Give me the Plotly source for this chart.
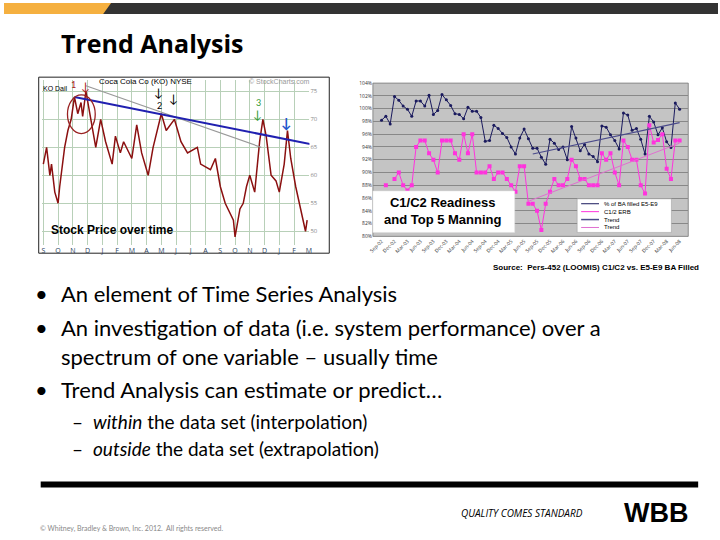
import plotly.graph_objects as go

# stock chart (KO)
stock_day = [20, 30, 40, 45, 55, 65, 70, 85, 95, 105, 115, 125, 135, 140, 150, 165, 170, 180, 195,
             210, 230, 240, 255, 265, 290, 305, 320, 340, 355, 380, 395, 420, 440, 460, 490, 500,
             530, 545, 560, 575, 600, 605, 620, 630, 640, 650, 665, 680, 690, 700, 715, 730, 740,
             755, 765, 775, 790, 805, 820, 825]
stock_price = [62, 65, 60, 62, 57, 55, 58, 65, 68, 70, 74, 71, 73, 70.5, 75, 70, 68, 65, 70,
               66, 62, 67, 64, 66, 63, 69, 64, 60, 65, 71, 68, 70, 66, 64, 65, 62,
               61, 63, 58, 55, 52, 49, 54, 55, 58, 60, 57, 66, 70, 67, 60, 59, 57,
               62, 68, 63, 58, 54, 50, 52]
stock_trend_day = [115, 840]
stock_trend_val = [74, 65.5]
stock_trend2_day = [150, 685]
stock_trend2_val = [76, 65]
stock_month_ticks = ["S", "O", "N", "D", "J", "F", "M", "A", "M", "J", "J", "A", "S", "O", "N", "D", "J", "F", "M"]

# readiness chart
months = ["Jan", "Feb", "Mar", "Apr", "May", "Jun", "Jul", "Aug", "Sep", "Oct", "Nov", "Dec"]
dates = []
for k in range(70):
    m = (8 + k) % 12
    y = 2 + (8 + k) // 12
    dates.append(f"{months[m]}-{y:02d}")
ba_filled = [98.2, 98.8, 97.6, 101.9, 101.3, 100.4, 99.9, 98.8, 101.2, 101.2, 100.4, 102.1, 99.1, 99.7,
             102.2, 101.4, 100.5, 99.2, 99.1, 98.4, 100.2, 99.6, 99.6, 98.6, 94.9, 95.0, 97.4, 96.9,
             96.1, 95.5, 94.0, 92.9, 95.4, 96.8, 95.3, 93.8, 93.8, 92.4, 91.3, 95.2, 94.6, 93.6, 94.0,
             92.0, 97.2, 95.4, 93.4, 94.4, 92.9, 92.5, 91.7, 97.3, 97.1, 95.9, 95.0, 93.7, 99.3, 99.0,
             96.6, 96.9, 95.2, 92.9, 98.8, 97.9, 95.9, 97.0, 94.8, 93.9, 100.9, 99.9]
erb = [None, 88, None, 89, 90, 88, 87.2, 88, 94, 95, 95, 93, 92, 90, 95, 95, 95, 93, 92, 96, 93, 96,
       90, 90, 90, 91, 89, 90, 90, 89, 88, 87, 91, 91, 85.1, 85.1, 84, 81, 85.1, 87, 89, 88, 88, 89,
       92, 91, 89, 89, 88, 88, 88, 93, 92, 93, 90, 88, 95, 94, 92, 92, 88, 86.7, 97.4, 94.7, 95.1,
       96, 90.6, 89, 95, 95]
ba_trend_idx = [35, 69]
ba_trend_val = [92.9, 97.8]
erb_trend_idx = [34, 69]
erb_trend_val = [85.5, 94.6]
legend_names = ["% of BA filled E5-E9", "C1/2 ERB", "Trend", "Trend"]

W, H = 720, 540
def px(x): return x / W
def py(y): return 1 - y / H

fig = go.Figure()

# stock
fig.add_trace(go.Scatter(x=stock_day, y=stock_price, mode="lines", line=dict(color="#8b1010", width=1.5),
                         xaxis="x", yaxis="y"))
fig.add_trace(go.Scatter(x=stock_trend2_day, y=stock_trend2_val, mode="lines", line=dict(color="#999999", width=1.2),
                         xaxis="x", yaxis="y"))
fig.add_trace(go.Scatter(x=stock_trend_day, y=stock_trend_val, mode="lines", line=dict(color="#2020b0", width=2),
                         xaxis="x", yaxis="y"))

# readiness
idx = list(range(len(dates)))
fig.add_trace(go.Scatter(x=idx, y=ba_filled, mode="lines+markers", name=legend_names[0],
                         line=dict(color="#1a1a5e", width=1), marker=dict(size=3, color="#1a1a5e"),
                         xaxis="x2", yaxis="y2"))
fig.add_trace(go.Scatter(x=idx, y=erb, mode="lines+markers", name=legend_names[1],
                         line=dict(color="#ff33dd", width=1), marker=dict(size=4, symbol="square", color="#ff33dd"),
                         xaxis="x2", yaxis="y2", connectgaps=False))
fig.add_trace(go.Scatter(x=ba_trend_idx, y=ba_trend_val, mode="lines", name=legend_names[2],
                         line=dict(color="#4a4a8a", width=1.2), xaxis="x2", yaxis="y2"))
fig.add_trace(go.Scatter(x=erb_trend_idx, y=erb_trend_val, mode="lines", name=legend_names[3],
                         line=dict(color="#e070d0", width=1), xaxis="x2", yaxis="y2"))

shapes = [
    dict(type="rect", xref="paper", yref="paper", x0=0, x1=1, y0=py(11), y1=1, fillcolor="#333333", line_width=0, layer="below"),
    dict(type="path", xref="paper", yref="paper", path=f"M 0 {py(11)} L {px(100)} {py(11)} L {px(108)} 1 L 0 1 Z",
         fillcolor="#f5b040", line_width=0),
    dict(type="rect", xref="paper", yref="paper", x0=px(35), x1=px(328), y0=py(253), y1=py(75),
         line=dict(color="#222", width=1), fillcolor="white", layer="below"),
    dict(type="rect", xref="paper", yref="paper", x0=px(372), x1=px(690), y0=py(236), y1=py(81),
         line=dict(color="#777", width=0.8), fillcolor="#c4c4c4", layer="below"),
    dict(type="circle", xref="paper", yref="paper", x0=px(64), x1=px(92), y0=py(132), y1=py(93),
         line=dict(color="#992222", width=1.3)),
    dict(type="rect", xref="paper", yref="paper", x0=px(372), x1=px(515), y0=py(232), y1=py(190),
         line=dict(color="#ddd", width=0.5), fillcolor="white"),
    dict(type="rect", xref="paper", yref="paper", x0=px(578), x1=px(673), y0=py(232), y1=py(198),
         line=dict(color="#999", width=0.5), fillcolor="white"),
    dict(type="rect", xref="paper", yref="paper", x0=px(37), x1=px(700), y0=py(490), y1=py(484),
         line_width=0, fillcolor="black"),
]
leg_colors = ["#1a1a5e", "#ff33dd", "#4a4a8a", "#e070d0"]
for i, c in enumerate(leg_colors):
    yy = py(203 + 8 * i)
    shapes.append(dict(type="line", xref="paper", yref="paper", x0=px(582), x1=px(600), y0=yy, y1=yy,
                       line=dict(color=c, width=1.5 if i == 2 else 1)))

def txt(x, y, s, size, color="black", bold=False, anchor="left", family="Lato", italic=False):
    if bold: s = f"<b>{s}</b>"
    if italic: s = f"<i>{s}</i>"
    return dict(xref="paper", yref="paper", x=px(x), y=py(y), text=s, showarrow=False, xanchor=anchor,
                yanchor="middle", font=dict(size=size, color=color, family=family))

anns = [
    txt(55, 40, "Trend Analysis", 25, bold=True, family="Open Sans"),
    txt(45, 230, "Stock Price over time", 12, bold=True, family="Liberation Sans"),
    txt(94, 79, "Coca Cola Co (KO) NYSE", 8, family="Liberation Sans"),
    txt(245, 79, "© StockCharts.com", 7, color="#999", family="Liberation Sans"),
    txt(37, 86, "KO Dail", 7, family="Liberation Sans"),
    txt(70, 82, "1", 9, color="#aa2222", anchor="center"),
    txt(82, 84, "↓", 12, color="#aa2222", anchor="center"),
    txt(156, 91, "↓", 12, anchor="center"),
    txt(157, 104, "2", 9, anchor="center"),
    txt(171, 97, "↓", 12, anchor="center"),
    txt(257, 101, "3", 9, color="#339933", anchor="center"),
    txt(256, 113, "↓", 12, color="#339933", anchor="center"),
    txt(285, 121, "↓", 14, color="#2255cc", bold=True, anchor="center"),
    txt(443, 210, "C1/C2 Readiness<br>and Top 5 Manning", 13, bold=True, anchor="center", family="Liberation Sans"),
    txt(703, 267, "Source:  Pers-452 (LOOMIS) C1/C2 vs. E5-E9 BA Filled", 8, bold=True, anchor="right", family="Liberation Sans"),
    txt(29, 294, "•", 22), txt(55, 294, "An element of Time Series Analysis", 22),
    txt(29, 328, "•", 22), txt(55, 328, "An investigation of data (i.e. system performance) over a", 22),
    txt(55, 357, "spectrum of one variable – usually time", 22),
    txt(29, 391, "•", 22), txt(55, 391, "Trend Analysis can estimate or predict…", 22),
    txt(67, 423, "–", 19), txt(88, 423, "<i>within</i> the data set (interpolation)", 19),
    txt(67, 451, "–", 19), txt(88, 451, "<i>outside</i> the data set (extrapolation)", 19),
    txt(34, 531, "© Whitney, Bradley & Brown, Inc. 2012.  All rights reserved.", 7, color="#888"),
    txt(586, 516, "QUALITY COMES STANDARD", 10, italic=True, anchor="right", family="Open Sans"),
    txt(692, 516, "WBB", 27, bold=True, anchor="right", family="Liberation Sans"),
]
for i, n in enumerate(legend_names):
    anns.append(txt(603, 203 + 8 * i, n, 6, family="Liberation Sans"))

fig.update_layout(
    width=W, height=H, margin=dict(l=0, r=0, t=0, b=0),
    paper_bgcolor="white", plot_bgcolor="rgba(0,0,0,0)", showlegend=False,
    shapes=shapes, annotations=anns,
    xaxis=dict(domain=[px(38), px(308)], range=[15, 832], tickvals=[20 + 45 * i for i in range(19)],
               ticktext=stock_month_ticks, showgrid=True, gridcolor="#b8d0b8", zeroline=False,
               tickfont=dict(size=7), ticks="", anchor="y", showline=False),
    yaxis=dict(domain=[py(245), py(78)], range=[47.5, 77], side="right", tickvals=[50, 55, 60, 65, 70, 75],
               showgrid=True, gridcolor="#b8d0b8", zeroline=False, tickfont=dict(size=6, color="#888"),
               anchor="x"),
    xaxis2=dict(domain=[px(372), px(690)], range=[-2, 71], tickvals=idx[::3], ticktext=dates[::3],
                tickangle=-45, tickfont=dict(size=5, color="#333"), showgrid=False, zeroline=False,
                anchor="y2"),
    yaxis2=dict(domain=[py(236), py(81)], range=[80, 104], dtick=2, ticksuffix="%",
                tickfont=dict(size=5, color="#333"), showgrid=True, gridcolor="#888", gridwidth=0.6,
                zeroline=False, anchor="x2"),
)

fig.write_html("out.html", config={"displayModeBar": False},
               post_script="document.body.style.margin='0';")
